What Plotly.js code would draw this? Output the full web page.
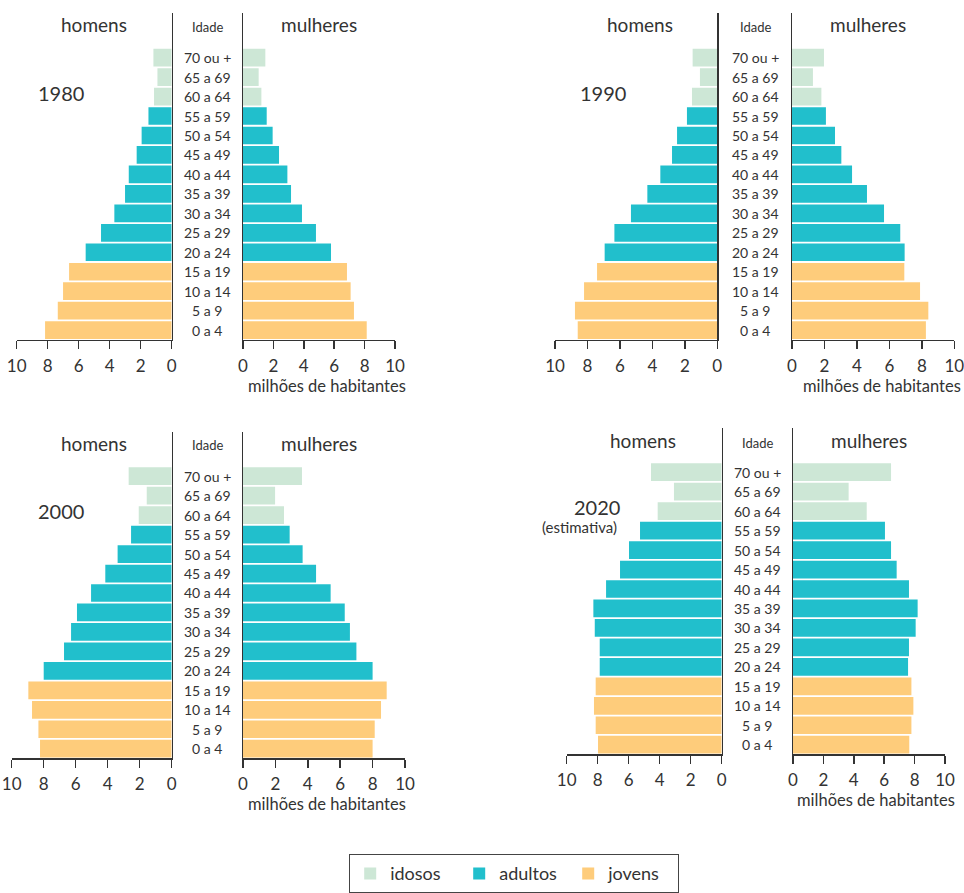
<!DOCTYPE html>
<html>
<head>
<meta charset="utf-8">
<script src="https://cdn.plot.ly/plotly-3.0.1.min.js"></script>
<style>html,body{margin:0;padding:0;background:#fff;}#chart{width:964px;height:893px;}</style>
</head>
<body>
<div id="chart"></div>
<script>
// Age groups, bottom to top
const ages = ['0 a 4','5 a 9','10 a 14','15 a 19','20 a 24','25 a 29','30 a 34','35 a 39','40 a 44','45 a 49','50 a 54','55 a 59','60 a 64','65 a 69','70 ou +'];
const groups = ['jovens','jovens','jovens','jovens','adultos','adultos','adultos','adultos','adultos','adultos','adultos','adultos','idosos','idosos','idosos'];
const groupNames = ['idosos','adultos','jovens'];
const groupColors = {idosos:'#cde7d6', adultos:'#21bfcc', jovens:'#fecc7b'};
const xTicks = [0,2,4,6,8,10];
const years = ['1980','1990','2000','2020'];
const yearNotes = ['','','','(estimativa)'];

// millions of inhabitants, bottom (0 a 4) to top (70 ou +)
const homens1980   = [8.17,7.35,7.01,6.62,5.55,4.56,3.70,3.01,2.77,2.26,1.94,1.50,1.14,0.92,1.18];
const mulheres1980 = [8.14,7.30,7.08,6.84,5.79,4.80,3.88,3.16,2.92,2.37,1.95,1.56,1.21,1.03,1.47];
const homens1990   = [8.60,8.77,8.21,7.41,6.94,6.34,5.32,4.31,3.51,2.79,2.48,1.87,1.56,1.07,1.52];
const mulheres1990 = [8.25,8.40,7.89,6.92,6.94,6.67,5.67,4.62,3.70,3.04,2.65,2.09,1.81,1.29,1.97];
const homens2000   = [8.23,8.33,8.73,8.96,8.00,6.73,6.29,5.92,5.04,4.15,3.38,2.54,2.06,1.56,2.69];
const mulheres2000 = [8.00,8.13,8.52,8.87,8.00,7.00,6.60,6.28,5.41,4.51,3.68,2.88,2.53,1.98,3.64];
const homens2020   = [7.98,8.13,8.24,8.13,7.87,7.87,8.19,8.28,7.46,6.56,5.98,5.27,4.13,3.08,4.56];
const mulheres2020 = [7.65,7.79,7.92,7.79,7.57,7.63,8.07,8.20,7.63,6.82,6.45,6.05,4.85,3.66,6.45];

const homensData = [homens1980, homens1990, homens2000, homens2020];
const mulheresData = [mulheres1980, mulheres1990, mulheres2000, mulheres2020];

// ---- layout geometry (pixels in a 964x893 canvas) ----
const W = 964, H = 893;
const panels = [
  {L:[16.7,171.7], R:[243,395],   bot:341, top:13,  lblX:207, homX:94,  mulX:319, titY:25,  idY:27,  yrX:61,  yrY:93,  noteX:0,   noteY:0,   milX:327, milY:387},
  {L:[555,717.3],  R:[792,954.3], bot:341, top:13,  lblX:755, homX:640, mulX:868, titY:25,  idY:27,  yrX:603, yrY:93,  noteX:0,   noteY:0,   milX:882, milY:387},
  {L:[11.7,171.7], R:[243,405],   bot:761, top:433, lblX:207, homX:94,  mulX:319, titY:445, idY:447, yrX:61,  yrY:513, noteX:0,   noteY:0,   milX:327, milY:807},
  {L:[566.7,721.7],R:[793,945],   bot:757, top:429, lblX:757, homX:643, mulX:869, titY:442, idY:444, yrX:597, yrY:509, noteX:579, noteY:529, milX:876, milY:803}
];
const slot = 19.53; // px per age group
const textColor = '#333333';
const fontFam = 'Lato, "Open Sans", sans-serif';

const px = x => x / W;
const py = y => 1 - y / H;

const traces = [];
const layout = {
  width: W, height: H,
  margin: {l:0, r:0, t:0, b:0},
  paper_bgcolor: '#ffffff', plot_bgcolor: 'rgba(0,0,0,0)',
  barmode: 'overlay', bargap: 0.09,
  font: {family: fontFam, color: textColor},
  showlegend: true,
  legend: {
    orientation: 'h', x: px(349), xanchor: 'left', y: py(857), yanchor: 'top',
    bordercolor: '#444', borderwidth: 1.2, bgcolor: '#fff',
    font: {size: 18, color: textColor, family: fontFam},
    entrywidth: 64, entrywidthmode: 'pixels', traceorder: 'normal',
    itemclick: false, itemdoubleclick: false
  },
  annotations: [],
  shapes: []
};

panels.forEach((p, i) => {
  const li = 2*i + 1, ri = 2*i + 2;
  const xl = li === 1 ? 'x' : 'x' + li, yl = li === 1 ? 'y' : 'y' + li;
  const xr = 'x' + ri, yr = 'y' + ri;
  const topRange = 14.5 + (p.bot - 15*slot - p.top) / slot;
  const yCommon = {
    type: 'category', categoryarray: ages, categoryorder: 'array',
    range: [-0.5, topRange], autorange: false,
    domain: [py(p.bot), py(p.top)],
    showline: true, linecolor: textColor, linewidth: 1.5,
    showticklabels: false, ticks: '', showgrid: false, zeroline: false, fixedrange: true
  };
  const xCommon = {
    tickvals: xTicks, ticktext: xTicks.map(String),
    showline: true, linecolor: textColor, linewidth: 1.5,
    ticks: 'outside', ticklen: 8, tickwidth: 1.5, tickcolor: textColor,
    showgrid: false, zeroline: false, fixedrange: true,
    tickfont: {size: 17, color: textColor, family: fontFam},
    ticklabelstandoff: 2, ticklabeloverflow: 'allow'
  };
  layout['xaxis' + (li === 1 ? '' : li)] = Object.assign({}, xCommon, {
    range: [10, 0], autorange: false, domain: [px(p.L[0]), px(p.L[1])], anchor: yl
  });
  layout['xaxis' + ri] = Object.assign({}, xCommon, {
    range: [0, 10], autorange: false, domain: [px(p.R[0]), px(p.R[1])], anchor: yr
  });
  layout['yaxis' + (li === 1 ? '' : li)] = Object.assign({}, yCommon, {anchor: xl, side: 'right'});
  layout['yaxis' + ri] = Object.assign({}, yCommon, {anchor: xr, side: 'left'});

  groupNames.forEach(g => {
    const idx = ages.map((a, k) => k).filter(k => groups[k] === g);
    traces.push({
      type: 'bar', orientation: 'h', name: g, legendgroup: g, showlegend: i === 0,
      x: idx.map(k => homensData[i][k]), y: idx.map(k => ages[k]),
      xaxis: xl, yaxis: yl, marker: {color: groupColors[g], line: {width: 0}},
      hoverinfo: 'x+y'
    });
  });
  groupNames.forEach(g => {
    const idx = ages.map((a, k) => k).filter(k => groups[k] === g);
    traces.push({
      type: 'bar', orientation: 'h', name: g, legendgroup: g, showlegend: false,
      x: idx.map(k => mulheresData[i][k]), y: idx.map(k => ages[k]),
      xaxis: xr, yaxis: yr, marker: {color: groupColors[g], line: {width: 0}},
      hoverinfo: 'x+y'
    });
  });

  // age labels
  ages.forEach(a => {
    layout.annotations.push({
      text: a, xref: 'paper', x: px(p.lblX), xanchor: 'center',
      yref: yl, y: a, yanchor: 'middle', showarrow: false,
      font: {size: 14, color: textColor, family: fontFam}
    });
  });
  const ann = (text, x, y, size) => layout.annotations.push({
    text, xref: 'paper', yref: 'paper', x: px(x), y: py(y),
    xanchor: 'center', yanchor: 'middle', showarrow: false,
    font: {size, color: textColor, family: fontFam}
  });
  ann('homens', p.homX, p.titY, 19);
  ann('mulheres', p.mulX, p.titY, 19);
  ann('Idade', p.lblX, p.idY, 13);
  ann(years[i], p.yrX, p.yrY, 20);
  if (yearNotes[i]) ann(yearNotes[i], p.noteX, p.noteY, 15);
  ann('milhões de habitantes', p.milX, p.milY, 16.5);
});

Plotly.newPlot('chart', traces, layout, {displayModeBar: false, staticPlot: true});
</script>
</body>
</html>
